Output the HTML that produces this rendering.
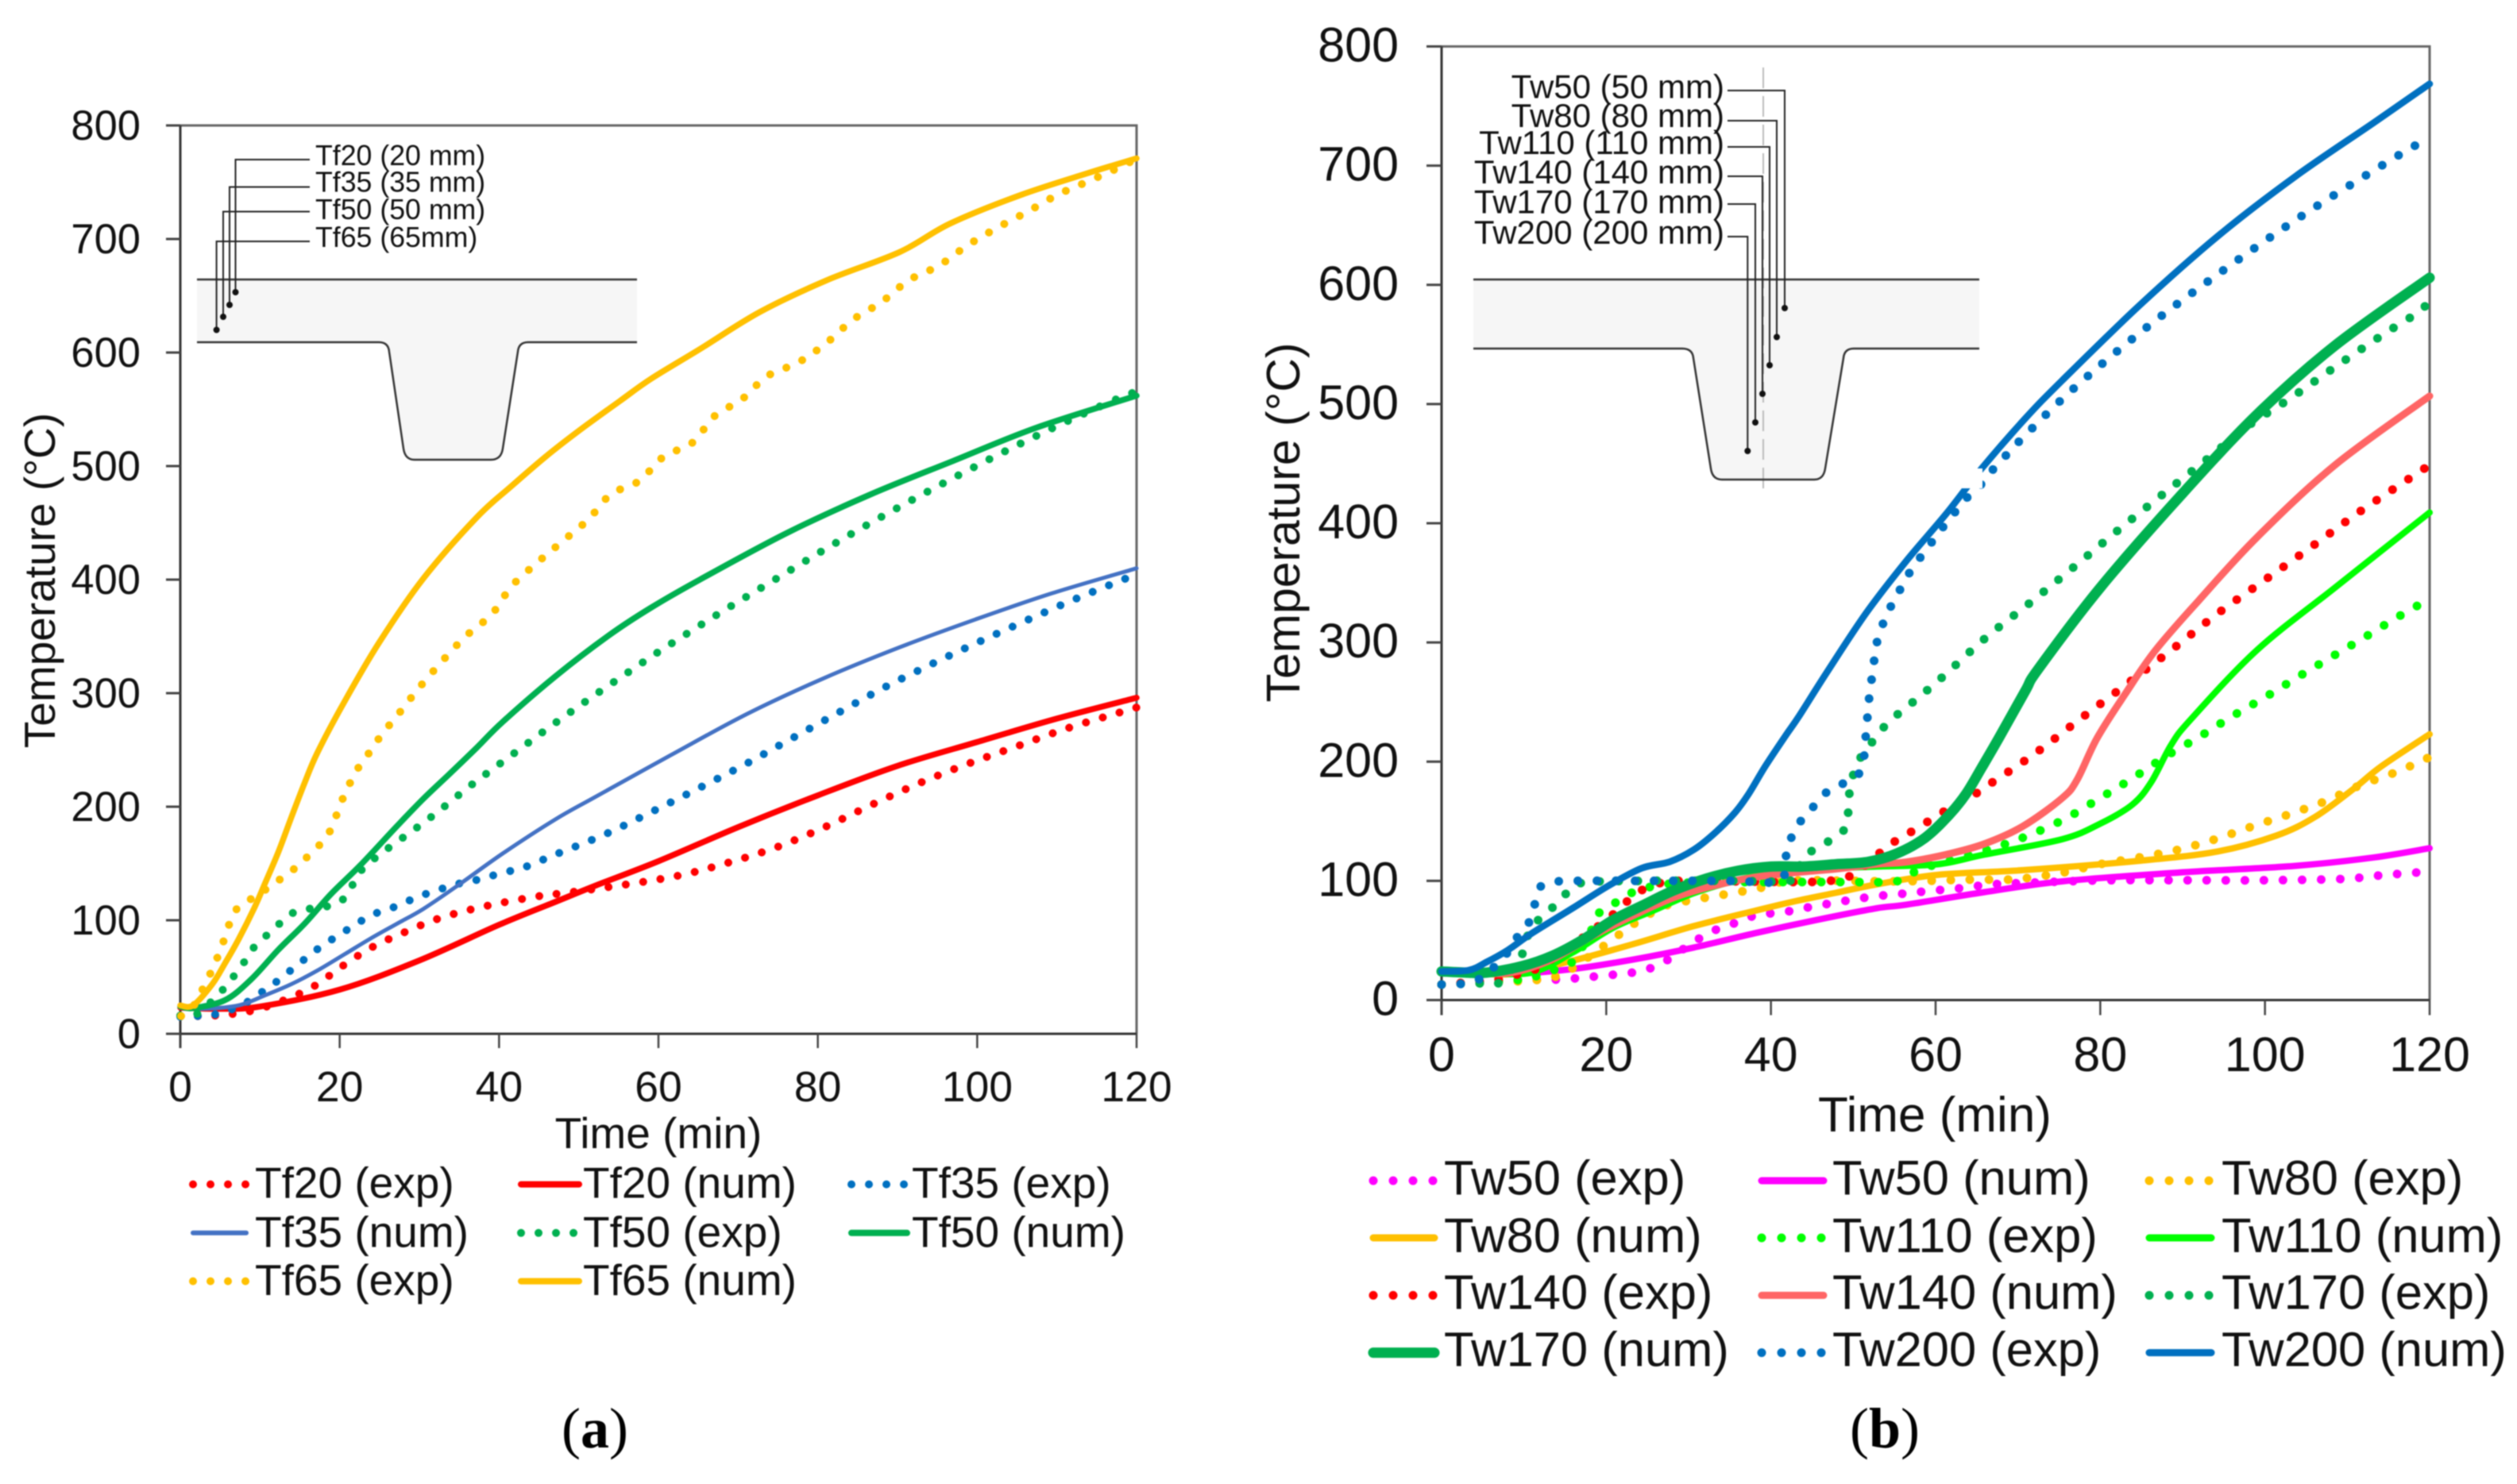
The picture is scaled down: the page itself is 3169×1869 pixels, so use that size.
<!DOCTYPE html>
<html lang="en">
<head>
<meta charset="utf-8">
<title>Temperature vs time charts</title>
<style>
html,body{margin:0;padding:0;background:#fff;}
svg{display:block;filter:blur(0.7px);}
text{font-family:"Liberation Sans",Arial,sans-serif;fill:#111;}
.cap{font-family:"Liberation Serif",serif;font-size:72px;fill:#000;}
</style>
</head>
<body>
<svg id="figure" xmlns="http://www.w3.org/2000/svg" width="3169" height="1869" viewBox="0 0 3169 1869">
  <rect x="0" y="0" width="3169" height="1869" fill="#ffffff"/>
  <g id="chartA"></g>
  <g id="chartB"></g>

  <g>
    <path d="M248,352 H802 V431 H665 Q653,431 652,443 L633,565 Q631,579 618,579 H522 Q510,579 508,565 L490,443 Q489,431 477,431 H248 Z" fill="#f6f6f6"/>
    <path d="M248,352 H802" stroke="#333" stroke-width="2.5" fill="none"/>
    <path d="M248,431 H477 Q489,431 490,443 L508,565 Q510,579 522,579 H618 Q631,579 633,565 L652,443 Q653,431 665,431 H802" stroke="#333" stroke-width="2.5" fill="none"/>
    <g stroke="#222" stroke-width="2" fill="none">
      <path d="M390,201 H296.5 V368"/>
      <path d="M390,235.5 H289 V384"/>
      <path d="M390,266.5 H281 V399"/>
      <path d="M390,304 H272.6 V415.5"/>
    </g>
    <circle cx="296.5" cy="368" r="4" fill="#111"/>
    <circle cx="289" cy="384" r="4" fill="#111"/>
    <circle cx="281" cy="399" r="4" fill="#111"/>
    <circle cx="272.6" cy="415.5" r="4" fill="#111"/>
    <text x="397" y="208" font-size="35.7">Tf20 (20 mm)</text>
    <text x="397" y="241.5" font-size="35.7">Tf35 (35 mm)</text>
    <text x="397" y="276" font-size="35.7">Tf50 (50 mm)</text>
    <text x="397" y="311" font-size="35.7">Tf65 (65mm)</text>
  </g>

  <g>
    <path d="M1855,352 H2492 V439 H2334 Q2322,439 2321,451 L2298,590 Q2296,604 2284,604 H2168 Q2156,604 2154,590 L2132,451 Q2131,439 2118,439 H1855 Z" fill="#f6f6f6"/>
    <path d="M2220,85 V615" stroke="#bbb" stroke-width="2" stroke-dasharray="26 10" fill="none"/>
    <path d="M1855,352 H2492" stroke="#333" stroke-width="2.5" fill="none"/>
    <path d="M1855,439 H2118 Q2131,439 2132,451 L2154,590 Q2156,604 2168,604 H2284 Q2296,604 2298,590 L2321,451 Q2322,439 2334,439 H2492" stroke="#333" stroke-width="2.5" fill="none"/>
    <g stroke="#222" stroke-width="2" fill="none">
      <path d="M2175,114 H2247 V388"/>
      <path d="M2175,152 H2237 V424.5"/>
      <path d="M2175,185 H2228 V460"/>
      <path d="M2175,222 H2219 V496"/>
      <path d="M2175,257 H2210 V532"/>
      <path d="M2175,298 H2200.3 V568"/>
    </g>
    <circle cx="2247" cy="388" r="4" fill="#111"/>
    <circle cx="2237" cy="424.5" r="4" fill="#111"/>
    <circle cx="2228" cy="460" r="4" fill="#111"/>
    <circle cx="2219" cy="496" r="4" fill="#111"/>
    <circle cx="2210" cy="532" r="4" fill="#111"/>
    <circle cx="2200.3" cy="568" r="4" fill="#111"/>
    <text x="2171" y="123.7" font-size="42" text-anchor="end">Tw50 (50 mm)</text>
    <text x="2171" y="160" font-size="42" text-anchor="end">Tw80 (80 mm)</text>
    <text x="2171" y="194" font-size="42" text-anchor="end">Tw110 (110 mm)</text>
    <text x="2171" y="231" font-size="42" text-anchor="end">Tw140 (140 mm)</text>
    <text x="2171" y="268.7" font-size="42" text-anchor="end">Tw170 (170 mm)</text>
    <text x="2171" y="307" font-size="42" text-anchor="end">Tw200 (200 mm)</text>
  </g>

  <text class="cap" x="749" y="1823" text-anchor="middle">(<tspan font-weight="bold">a</tspan>)</text>
  <text class="cap" x="2373" y="1823" text-anchor="middle">(<tspan font-weight="bold">b</tspan>)</text>
</svg>

<script>
// ---------- Shared axis ticks ----------
const timeTicks = [0, 20, 40, 60, 80, 100, 120];
const tempTicks = [0, 100, 200, 300, 400, 500, 600, 700, 800];

// ---------- Chart (a): flange temperatures ----------
const tf20ExpTime = [0, 2.1, 4.3, 8.7, 12.8, 16.8, 20.3, 24, 28, 32, 36.2, 40.5, 44.8, 47, 53.5, 62.1, 68.4, 74.7, 80.8, 86.7, 92.7, 98.8, 104.9, 111.1, 117.4, 120];
const tf20ExpTemp = [16, 15.6, 16, 19.8, 29, 42, 59.4, 76, 89, 100.5, 109, 115.6, 121, 123, 129, 138.7, 150, 164, 181.8, 201.5, 220.6, 237.7, 253, 268.6, 282, 287.4];
const tf20NumTime = [0, 5, 10, 20, 30, 40, 47, 52.1, 60, 70, 80, 90, 100, 110, 120];
const tf20NumTemp = [23, 22, 24, 38.9, 64.6, 96, 116, 130.5, 152, 182, 210, 236, 257, 277.6, 296];
const tf35ExpTime = [0, 2.1, 4.3, 6.4, 8.4, 10.2, 12, 13.7, 15.4, 17.1, 19, 20.8, 22.6, 24.5, 26.6, 28.6, 30.6, 32.7, 34.8, 36.9, 39, 41.2, 43.3, 45.3, 47.1, 53.4, 59.3, 65.2, 71, 76.7, 82.5, 88.2, 94.1, 100, 106, 112, 120];
const tf35ExpTemp = [15, 15.6, 17, 21.4, 28, 36.6, 45.5, 55, 64.6, 74, 83, 91, 99, 106, 111, 117, 122.6, 127.5, 132, 135, 139, 143, 147, 152.7, 158, 176, 196, 216.8, 237.8, 260, 282.5, 304.5, 325, 344.5, 363.5, 382, 404.8];
const tf35NumTime = [0, 3, 7.3, 10.6, 13.9, 17.2, 20.6, 23.9, 27.2, 30.5, 34.9, 40.5, 47.1, 52.1, 61.7, 71.2, 80.7, 90.3, 99.8, 109.4, 120];
const tf35NumTemp = [23, 22, 25, 33.8, 43.6, 55.7, 70, 84, 97, 110, 131, 159, 189, 208.7, 246, 282, 313, 340.5, 365, 388, 410];
const tf50ExpTime = [0, 2.1, 5.3, 6.7, 8, 9.2, 10.8, 12.4, 14, 16.1, 18.3, 20.3, 21.6, 22.7, 24.3, 26, 31.3, 36.5, 41.8, 47.1, 52.5, 57.9, 59.7, 67.1, 74.6, 82.1, 89.7, 97.4, 105.2, 113, 119.1, 120];
const tf50ExpTemp = [16, 17.5, 38.5, 50.6, 63, 75.8, 86.5, 96.7, 106, 110, 112, 117.7, 131, 143.8, 154, 163, 190, 219, 246.6, 274, 300.7, 326.5, 335, 368, 400, 431.7, 462, 491, 519, 545, 563.5, 563];
const tf50NumTime = [0, 1.6, 5.6, 8.9, 12.3, 15.6, 18.9, 22.6, 27.2, 30.5, 33.8, 37.2, 40.5, 47.1, 53.8, 59, 65.2, 76.1, 86.6, 97, 107.5, 120];
const tf50NumTemp = [24, 22.6, 29.6, 48, 74, 97, 123, 148.5, 183, 207, 229, 252, 275, 315, 351, 375, 400, 441, 475, 504.6, 534, 562];
const tf65ExpTime = [0.1, 1.6, 2.6, 3.6, 4.5, 5.3, 6, 6.8, 8.5, 10.3, 12.1, 13.9, 15.5, 17.1, 18.5, 19.4, 20.2, 21.1, 22.1, 23.4, 24.6, 25.9, 27.3, 30, 32.9, 35.8, 39.1, 41.6, 44.8, 48, 51.2, 54, 57.6, 60.6, 64.3, 67, 70.5, 73.6, 77.6, 81.1, 84.4, 88, 91.4, 95.2, 98.8, 102.5, 106.3, 110.1, 114, 118, 120];
const tf65ExpTemp = [15.6, 24, 36.6, 50.6, 64.6, 79, 93.7, 107.7, 117, 125, 134, 143, 153, 163.6, 175, 189, 204, 218, 231.7, 244.5, 257, 269, 281, 305, 328.5, 350, 369.7, 394.4, 415, 434, 453, 475, 487, 508, 520.8, 543.8, 559, 579, 591.5, 608.5, 628.9, 644.5, 663.6, 676.6, 694.5, 709.8, 724, 739, 751, 763.6, 771];
const tf65NumTime = [0, 1.6, 4, 5.6, 7.3, 9.3, 10.6, 12.3, 13.9, 15.6, 17.2, 20.4, 24.9, 30.5, 37.2, 41.5, 45.8, 50, 55.1, 59.1, 65.2, 72.7, 81.1, 90.3, 96.6, 105.4, 113.8, 120];
const tf65NumTemp = [25, 25, 43.6, 62, 83, 111, 132, 160, 190, 221, 247.5, 290, 344, 401, 454.8, 482, 508, 531, 557, 577, 603, 635.6, 663.6, 688.6, 713.6, 738.6, 757.8, 771];
const legendALabels = ["Tf20 (exp)", "Tf20 (num)", "Tf35 (exp)", "Tf35 (num)", "Tf50 (exp)", "Tf50 (num)", "Tf65 (exp)", "Tf65 (num)"];

// ---------- Chart (b): web temperatures ----------
const tw50ExpTime = [0, 9.4, 14.3, 19, 23.8, 26, 28, 30, 31.9, 34, 36.3, 38.5, 41, 43.2, 45.5, 48, 50.2, 52.6, 55, 57.3, 59.6, 62, 66.8, 71.4, 80.9, 90.4, 100, 109.4, 114.2, 119, 120];
const tw50ExpTemp = [13, 16.7, 17.3, 20, 23.7, 28.6, 36, 46, 54, 61, 66, 72, 73, 76, 79, 82, 84.6, 87, 88.6, 90, 92, 93, 97, 98.4, 100.5, 100.5, 100.5, 101.6, 104.7, 107.3, 108];
const tw50NumTime = [0, 4, 8.5, 15.9, 23.3, 30.6, 38, 45.4, 52.8, 56.4, 65.9, 75.4, 89.6, 103.7, 113.2, 120];
const tw50NumTemp = [24, 23, 22, 26, 34, 44, 56, 67, 77, 80, 90.5, 99.6, 107, 112.6, 119.6, 127.4];
const tw80ExpTime = [0, 7.1, 11.8, 14, 16, 23.8, 26.2, 28.2, 38, 42.2, 49.3, 54.3, 58.9, 63.7, 68.5, 70.7, 75.5, 80, 84.7, 89.4, 94, 98.5, 103, 107.4, 111.5, 116.1, 120];
const tw80ExpTemp = [13, 15, 17, 20, 27, 66, 75, 81, 93, 100, 100, 99.6, 100, 101, 101, 102, 107, 114, 119.6, 126, 135, 145.8, 156, 167, 180, 191.7, 203.8];
const tw80NumTime = [0, 4, 8.5, 15.9, 23.3, 30.6, 38, 43, 47.9, 52.8, 60.2, 70.6, 85, 94.3, 101.4, 106.1, 110.8, 114.1, 120];
const tw80NumTemp = [24, 23, 22, 33, 47, 62, 74.8, 83, 90, 97, 105, 109, 117, 124.7, 138, 153.7, 177.4, 195.9, 223];
const tw110ExpTime = [0, 9.4, 11.7, 13.9, 16, 18.3, 19.2, 21.1, 23.1, 27, 33, 38, 49.2, 53.7, 56, 58, 60.2, 67.2, 71.6, 75.9, 80, 83.9, 87.8, 92, 96, 100, 104, 108, 112, 116, 120];
const tw110ExpTemp = [13, 17, 20.5, 26, 33, 60, 73.6, 81.6, 90, 97, 99, 99, 99, 99, 101, 110, 114, 128, 139, 152.7, 169.6, 186, 203.8, 220.7, 238, 254, 271, 287.5, 303.9, 320.8, 336.6];
const tw110NumTime = [0, 5, 10.9, 15.9, 20.8, 25.7, 30.6, 35.6, 40.5, 45.4, 52.8, 60.2, 65.9, 75.4, 80, 83.9, 86.2, 88.6, 91, 99, 108.5, 120];
const tw110NumTemp = [24, 23, 23, 39.8, 60.5, 75, 89.6, 100, 107.5, 110, 112, 113.9, 122, 135, 148, 164, 183, 214, 235.5, 293.4, 346, 409];
const tw140ExpTime = [0, 7.1, 9.4, 11.7, 17.5, 19.4, 21.2, 22.9, 24.8, 27.1, 29.4, 43.7, 46, 48.4, 50.5, 54.1, 56, 58, 60, 62, 64.2, 66.1, 71.9, 77.5, 83.2, 88.7, 94.2, 99.9, 105.6, 111.3, 117.2, 120];
const tw140ExpTemp = [13, 17.5, 22, 27, 54, 64, 74, 85, 94, 99, 100, 99, 100, 101, 108, 128.5, 137, 145, 154, 162, 170, 179, 206, 235.5, 265, 294, 324, 352, 380, 408.7, 436, 448.8];
const tw140NumTime = [0, 4, 8.5, 13.4, 18.4, 23.3, 28.2, 33.1, 38, 43, 47.9, 52.8, 56.4, 61.2, 65.9, 70.6, 75.4, 77.2, 79.6, 83, 86.7, 92, 99, 108.5, 120];
const tw140NumTemp = [24, 23, 23, 34, 54, 71, 86, 96, 103, 107, 110, 114, 115.8, 122, 131, 145.8, 169.6, 185, 219.6, 256.5, 293.4, 335.5, 388, 448.8, 506.7];
const tw170ExpTime = [0, 2.4, 4.7, 7.1, 10, 10.6, 12, 13.7, 15.4, 17.3, 25, 35, 41.2, 43, 43.8, 45.6, 47.7, 49.2, 49.4, 49.6, 50.2, 51.2, 52.6, 54.1, 55.8, 57.6, 61, 66.1, 71.6, 77, 82.4, 87.9, 93.3, 98, 102.9, 108.6, 114.5, 118.4, 120];
const tw170ExpTemp = [13, 13.6, 14, 15, 41, 57, 69, 79, 91, 98.6, 100, 100, 99.5, 103, 118, 128, 136, 146, 161, 177, 193, 207, 219, 232, 242, 252, 272, 304, 334, 364.5, 395.5, 426, 455.6, 482, 504, 531.5, 559, 576, 586];
const tw170NumTime = [0, 3, 5.5, 9.8, 13.4, 17, 20.8, 24.3, 28.2, 32.2, 36, 40, 43.9, 47.9, 51.8, 55.3, 58.7, 61.6, 63.7, 65.6, 67.7, 70.9, 72.5, 80, 89.6, 99, 108.5, 120];
const tw170NumTemp = [24, 23, 23, 28.5, 37, 50, 67, 79, 92, 102, 108.5, 112, 112, 114, 116, 123, 136, 155, 173, 195, 220, 259.5, 278, 346, 422, 491, 549, 606];
const tw200ExpTime = [0, 2.4, 4.7, 6.5, 8, 9.3, 10.6, 11.3, 12, 13.7, 16, 25, 35, 41, 41.8, 42.4, 43.5, 45, 46.7, 48.6, 50.7, 51.3, 51.5, 51.7, 51.9, 52.2, 52.5, 52.8, 53.5, 54.4, 55.5, 56.6, 57.9, 59.3, 60.7, 62.2, 63.6, 65.2, 66.7, 68.3, 69.9, 76.6, 85.5, 94.9, 104.5, 114.4, 118.4, 120];
const tw200ExpTemp = [13, 13.6, 18, 28.6, 39.8, 54, 65, 80, 95, 99, 100, 100, 100, 100, 120, 135, 149, 161, 174, 181, 190, 204, 220, 235.7, 251.5, 267.6, 283, 298, 313.7, 328, 342, 356, 369, 382, 395, 408, 420, 430, 443, 455, 467, 512, 563.6, 612, 658, 701, 717.5, 724];
const tw200NumTime = [0, 3.3, 5.5, 8, 10.96, 15.9, 20.3, 24.3, 27.7, 30.6, 33.1, 35.6, 37.3, 39.3, 41.8, 43.4, 46.8, 51.6, 56.4, 61.3, 65.6, 70.9, 75.4, 84.8, 94.3, 103.7, 113.2, 120];
const tw200NumTemp = [24, 25, 32, 41.7, 56, 77, 96, 110.6, 116, 126, 139.6, 157, 173, 196, 222, 238, 275, 325, 368, 408, 446, 488, 520, 583, 641, 691, 736, 768.6];
const legendBLabels = ["Tw50 (exp)", "Tw50 (num)", "Tw80 (exp)", "Tw80 (num)", "Tw110 (exp)", "Tw110 (num)", "Tw140 (exp)", "Tw140 (num)", "Tw170 (exp)", "Tw170 (num)", "Tw200 (exp)", "Tw200 (num)"];

// ---------- Axis functions ----------
const SVGNS = "http://www.w3.org/2000/svg";
function scale(d0, d1, r0, r1) { return v => r0 + (v - d0) * (r1 - r0) / (d1 - d0); }
const xA = scale(0, 120, 227, 1431);
const yA = scale(0, 800, 1302, 158);
const xB = scale(0, 120, 1815, 3059);
const yB = scale(0, 800, 1259.5, 58.5);

function make(tag, parent, name, attrs, interact) {
  const el = document.createElementNS(SVGNS, tag);
  
  
  for (const k in attrs) el.setAttribute(k, attrs[k]);
  parent.appendChild(el);
  return el;
}

function smoothPath(pts) {
  let d = "M" + pts[0][0].toFixed(2) + "," + pts[0][1].toFixed(2);
  for (let i = 0; i < pts.length - 1; i++) {
    const p0 = pts[Math.max(0, i - 1)], p1 = pts[i], p2 = pts[i + 1], p3 = pts[Math.min(pts.length - 1, i + 2)];
    const c1x = p1[0] + (p2[0] - p0[0]) / 6, c1y = p1[1] + (p2[1] - p0[1]) / 6;
    const c2x = p2[0] - (p3[0] - p1[0]) / 6, c2y = p2[1] - (p3[1] - p1[1]) / 6;
    d += "C" + c1x.toFixed(2) + "," + c1y.toFixed(2) + " " + c2x.toFixed(2) + "," + c2y.toFixed(2) + " " + p2[0].toFixed(2) + "," + p2[1].toFixed(2);
  }
  return d;
}

function drawAxes(parent, prefix, x, y, cfg) {
  const x0 = x(0), x1 = x(120), y0 = y(0), y1 = y(800);
  make('path', parent, prefix + '-plot-border', { d: `M${x0},${y1} H${x1} V${y0}`, fill: 'none', stroke: '#666', 'stroke-width': 3 });
  make('line', parent, prefix + '-y-axis', { x1: x0, y1: y1, x2: x0, y2: y0 + cfg.tick, stroke: '#333', 'stroke-width': 3 });
  make('line', parent, prefix + '-x-axis', { x1: x0 - cfg.tick, y1: y0, x2: x1, y2: y0, stroke: '#333', 'stroke-width': 3 });
  tempTicks.forEach(v => {
    make('line', parent, prefix + '-y-tick', { x1: x0 - cfg.tick, y1: y(v), x2: x0, y2: y(v), stroke: '#444', 'stroke-width': 3 });
    const t = make('text', parent, prefix + '-y-tick-label', { x: cfg.yLabelX, y: y(v) + cfg.yDy, 'font-size': cfg.yTickFont, 'text-anchor': 'end' });
    t.textContent = v;
  });
  timeTicks.forEach(v => {
    make('line', parent, prefix + '-x-tick', { x1: x(v), y1: y0, x2: x(v), y2: y0 + cfg.tick, stroke: '#444', 'stroke-width': 2.5 });
    const t = make('text', parent, prefix + '-x-tick-label', { x: x(v), y: cfg.xLabelY, 'font-size': cfg.xTickFont, 'text-anchor': 'middle' });
    t.textContent = v;
  });
  const xt = make('text', parent, prefix + '-x-axis-title', { x: cfg.xTitleX, y: cfg.xTitleY, 'font-size': cfg.xTitleFont, 'text-anchor': 'middle' });
  xt.textContent = 'Time (min)';
  const yt = make('text', parent, prefix + '-y-axis-title', { transform: `translate(${cfg.yTitleX},${cfg.yTitleY}) rotate(-90)`, 'font-size': cfg.yTitleFont, 'text-anchor': 'middle' });
  yt.textContent = 'Temperature (°C)';
}

function drawSeries(parent, name, x, y, times, temps, color, width, dotted, gap) {
  const pts = times.map((t, i) => [x(t), y(temps[i])]);
  const attrs = { d: smoothPath(pts), fill: 'none', stroke: color, 'stroke-width': width, 'stroke-linecap': 'round', 'stroke-linejoin': 'round' };
  if (dotted) attrs['stroke-dasharray'] = '0.01 ' + gap;
  make('path', parent, name, attrs);
}

function drawLegendEntry(parent, name, label, sx0, sx1, cy, tx, ty, font, color, width, dotted, gap) {
  const attrs = { x1: sx0, y1: cy, x2: sx1, y2: cy, stroke: color, 'stroke-width': width, 'stroke-linecap': 'round' };
  if (dotted) attrs['stroke-dasharray'] = '0.01 ' + gap;
  make('line', parent, name + '-symbol', attrs);
  const t = make('text', parent, name + '-label', { x: tx, y: ty, 'font-size': font });
  t.textContent = label;
}

// ---------- Chart (a) ----------
const gA = document.getElementById('chartA');
drawAxes(gA, 'chart-a', xA, yA, { tick: 18, yLabelX: 177, yDy: 18, yTickFont: 52.5, xTickFont: 53.5, xLabelY: 1387, xTitleX: 829, xTitleY: 1446, xTitleFont: 55, yTitleX: 69, yTitleY: 731, yTitleFont: 55 });
drawSeries(gA, 'tf20-exp-line', xA, yA, tf20ExpTime, tf20ExpTemp, '#FF0000', 10, true, 22);
drawSeries(gA, 'tf20-num-line', xA, yA, tf20NumTime, tf20NumTemp, '#FF0000', 7.5, false);
drawSeries(gA, 'tf35-exp-line', xA, yA, tf35ExpTime, tf35ExpTemp, '#0070C0', 10, true, 22);
drawSeries(gA, 'tf35-num-line', xA, yA, tf35NumTime, tf35NumTemp, '#4472C4', 5, false);
drawSeries(gA, 'tf50-exp-line', xA, yA, tf50ExpTime, tf50ExpTemp, '#00B050', 10, true, 22);
drawSeries(gA, 'tf50-num-line', xA, yA, tf50NumTime, tf50NumTemp, '#00B050', 7.5, false);
drawSeries(gA, 'tf65-exp-line', xA, yA, tf65ExpTime, tf65ExpTemp, '#FFC000', 10, true, 22);
drawSeries(gA, 'tf65-num-line', xA, yA, tf65NumTime, tf65NumTemp, '#FFC000', 7.5, false);

const lgA = make('g', gA, 'chart-a-legend', {});
const colA = [[243, 310, 321], [656, 729, 734], [1072, 1142, 1148]];
const rowA = [[1491.6, 1508.6], [1552.8, 1570.6], [1613.6, 1631]];
const colorsA = ['#FF0000', '#FF0000', '#0070C0', '#4472C4', '#00B050', '#00B050', '#FFC000', '#FFC000'];
legendALabels.forEach((label, i) => {
  const c = colA[i % 3], r = rowA[Math.floor(i / 3)];
  const isExp = label.indexOf('exp') >= 0;
  const wid = isExp ? 10 : (label.indexOf('Tf35') >= 0 ? 6 : 8);
  drawLegendEntry(lgA, 'legend-entry-' + label.toLowerCase().replace(/[^a-z0-9]+/g, '-').replace(/-$/, ''), label, c[0], c[1], r[0], c[2], r[1], 55, colorsA[i], wid, isExp, 22);
});

// ---------- Chart (b) ----------
const gB = document.getElementById('chartB');
drawAxes(gB, 'chart-b', xB, yB, { tick: 19, yLabelX: 1761, yDy: 19, yTickFont: 61, xTickFont: 61, xLabelY: 1349, xTitleX: 2436, xTitleY: 1425, xTitleFont: 62, yTitleX: 1636, yTitleY: 658, yTitleFont: 59 });
drawSeries(gB, 'tw50-exp-line', xB, yB, tw50ExpTime, tw50ExpTemp, '#FF00FF', 11, true, 24);
drawSeries(gB, 'tw50-num-line', xB, yB, tw50NumTime, tw50NumTemp, '#FF00FF', 8, false);
drawSeries(gB, 'tw80-exp-line', xB, yB, tw80ExpTime, tw80ExpTemp, '#FFC000', 11, true, 24);
drawSeries(gB, 'tw80-num-line', xB, yB, tw80NumTime, tw80NumTemp, '#FFC000', 8, false);
drawSeries(gB, 'tw110-exp-line', xB, yB, tw110ExpTime, tw110ExpTemp, '#00FF00', 11, true, 24);
drawSeries(gB, 'tw110-num-line', xB, yB, tw110NumTime, tw110NumTemp, '#00FF00', 8, false);
drawSeries(gB, 'tw140-exp-line', xB, yB, tw140ExpTime, tw140ExpTemp, '#FF0000', 11, true, 24);
drawSeries(gB, 'tw140-num-line', xB, yB, tw140NumTime, tw140NumTemp, '#FF6565', 9, false);
drawSeries(gB, 'tw170-exp-line', xB, yB, tw170ExpTime, tw170ExpTemp, '#00B050', 11, true, 24);
drawSeries(gB, 'tw170-num-line', xB, yB, tw170NumTime, tw170NumTemp, '#00B050', 13, false);
drawSeries(gB, 'tw200-exp-line', xB, yB, tw200ExpTime, tw200ExpTemp, '#0070C0', 11, true, 24);
drawSeries(gB, 'tw200-num-line', xB, yB, tw200NumTime, tw200NumTemp, '#0070C0', 8.5, false);
make('rect', gB, 'tw200-line-gap', { x: 2470, y: 590, width: 26, height: 25, fill: '#ffffff' });

const lgB = make('g', gB, 'chart-b-legend', {});
const colB = [[1729, 1806, 1818], [2218, 2296, 2307], [2706, 2784, 2797]];
const rowB = [[1487, 1504.6], [1559, 1577], [1631.4, 1648.7], [1703.6, 1720.6]];
const colorsB = ['#FF00FF', '#FF00FF', '#FFC000', '#FFC000', '#00FF00', '#00FF00', '#FF0000', '#FF6565', '#00B050', '#00B050', '#0070C0', '#0070C0'];
legendBLabels.forEach((label, i) => {
  const c = colB[i % 3], r = rowB[Math.floor(i / 3)];
  const isExp = label.indexOf('exp') >= 0;
  const wid = isExp ? 11 : (label.indexOf('Tw170') >= 0 ? 13 : 9);
  drawLegendEntry(lgB, 'legend-entry-' + label.toLowerCase().replace(/[^a-z0-9]+/g, '-').replace(/-$/, ''), label, c[0], c[1], r[0], c[2], r[1], 61.5, colorsB[i], wid, isExp, 25);
});
</script>
</body>
</html>
